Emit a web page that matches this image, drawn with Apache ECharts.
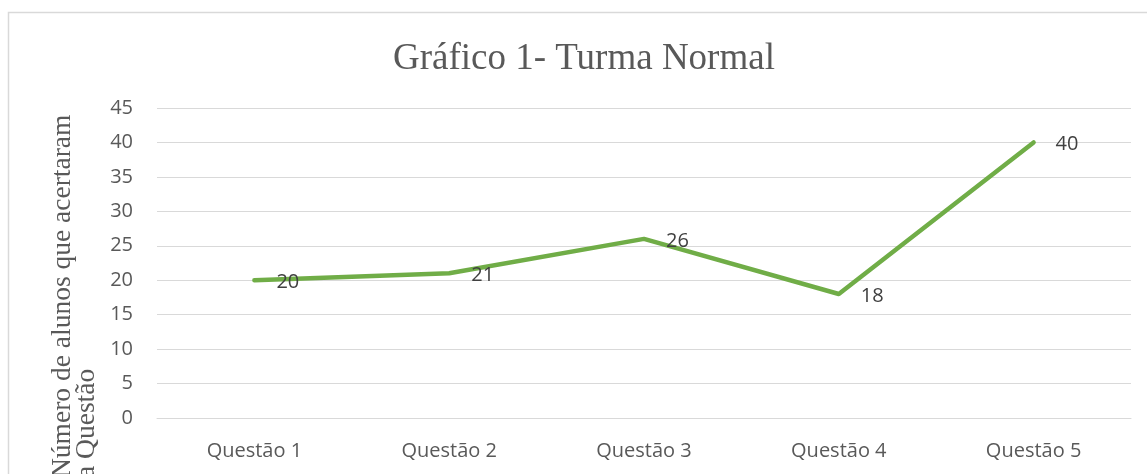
<!DOCTYPE html>
<html>
<head>
<meta charset="utf-8">
<script src="https://cdn.jsdelivr.net/npm/echarts@6/dist/echarts.min.js"></script>
<style>
html,body{margin:0;padding:0;background:#fff;}
#chart{width:1147px;height:474px;}
</style>
</head>
<body>
<div id="chart"></div>
<script>
const chartTitle = 'Gráfico 1- Turma Normal';
const categories = ['Questão 1', 'Questão 2', 'Questão 3', 'Questão 4', 'Questão 5'];
const values = [20, 21, 26, 18, 40];
const yAxisTitleLines = ['Número de alunos que acertaram', 'a Questão'];
const yMin = 0, yMax = 45, yStep = 5;

const chart = echarts.init(document.getElementById('chart'), null, {renderer: 'canvas'});
chart.setOption({
  animation: false,
  backgroundColor: '#ffffff',
  title: {
    text: chartTitle,
    left: 393,
    top: 41,
    padding: 0,
    textStyle: {fontFamily: 'Liberation Serif', fontSize: 37, fontWeight: 'normal', color: '#595959'}
  },
  graphic: [
    {type: 'rect', silent: true, z: -1, shape: {x: 8.5, y: 12.5, width: 1300, height: 800},
     style: {fill: 'none', stroke: '#d9d9d9', lineWidth: 1.5}},
    {type: 'text', x: 63, y: 478, rotation: Math.PI / 2,
     style: {text: yAxisTitleLines[0], font: '27.5px "Liberation Serif"', fill: '#595959', align: 'left', verticalAlign: 'middle'}},
    {type: 'text', x: 87, y: 478, rotation: Math.PI / 2,
     style: {text: yAxisTitleLines[1], font: '27.5px "Liberation Serif"', fill: '#595959', align: 'left', verticalAlign: 'middle'}}
  ],
  grid: {left: 157, right: 16, top: 108, bottom: 56, containLabel: false},
  xAxis: {
    type: 'category',
    data: categories,
    boundaryGap: true,
    axisLine: {show: true, lineStyle: {color: '#d9d9d9', width: 1}},
    axisTick: {show: false},
    axisLabel: {color: '#595959', fontFamily: 'Open Sans', fontSize: 20, margin: 23}
  },
  yAxis: {
    type: 'value',
    min: yMin, max: yMax, interval: yStep,
    axisLine: {show: false},
    axisTick: {show: false},
    axisLabel: {color: '#595959', fontFamily: 'Open Sans', fontSize: 20, margin: 24},
    splitLine: {lineStyle: {color: '#d9d9d9', width: 1}}
  },
  series: [{
    type: 'line',
    data: values,
    symbol: 'circle',
    symbolSize: 2,
    showSymbol: true,
    itemStyle: {color: '#70ad47'},
    lineStyle: {color: '#70ad47', width: 4.5, cap: 'round', join: 'round'},
    label: {show: true, position: 'right', distance: 21, offset: [0, 2],
      color: '#404040', fontFamily: 'Open Sans', fontSize: 20}
  }]
});
</script>
</body>
</html>
